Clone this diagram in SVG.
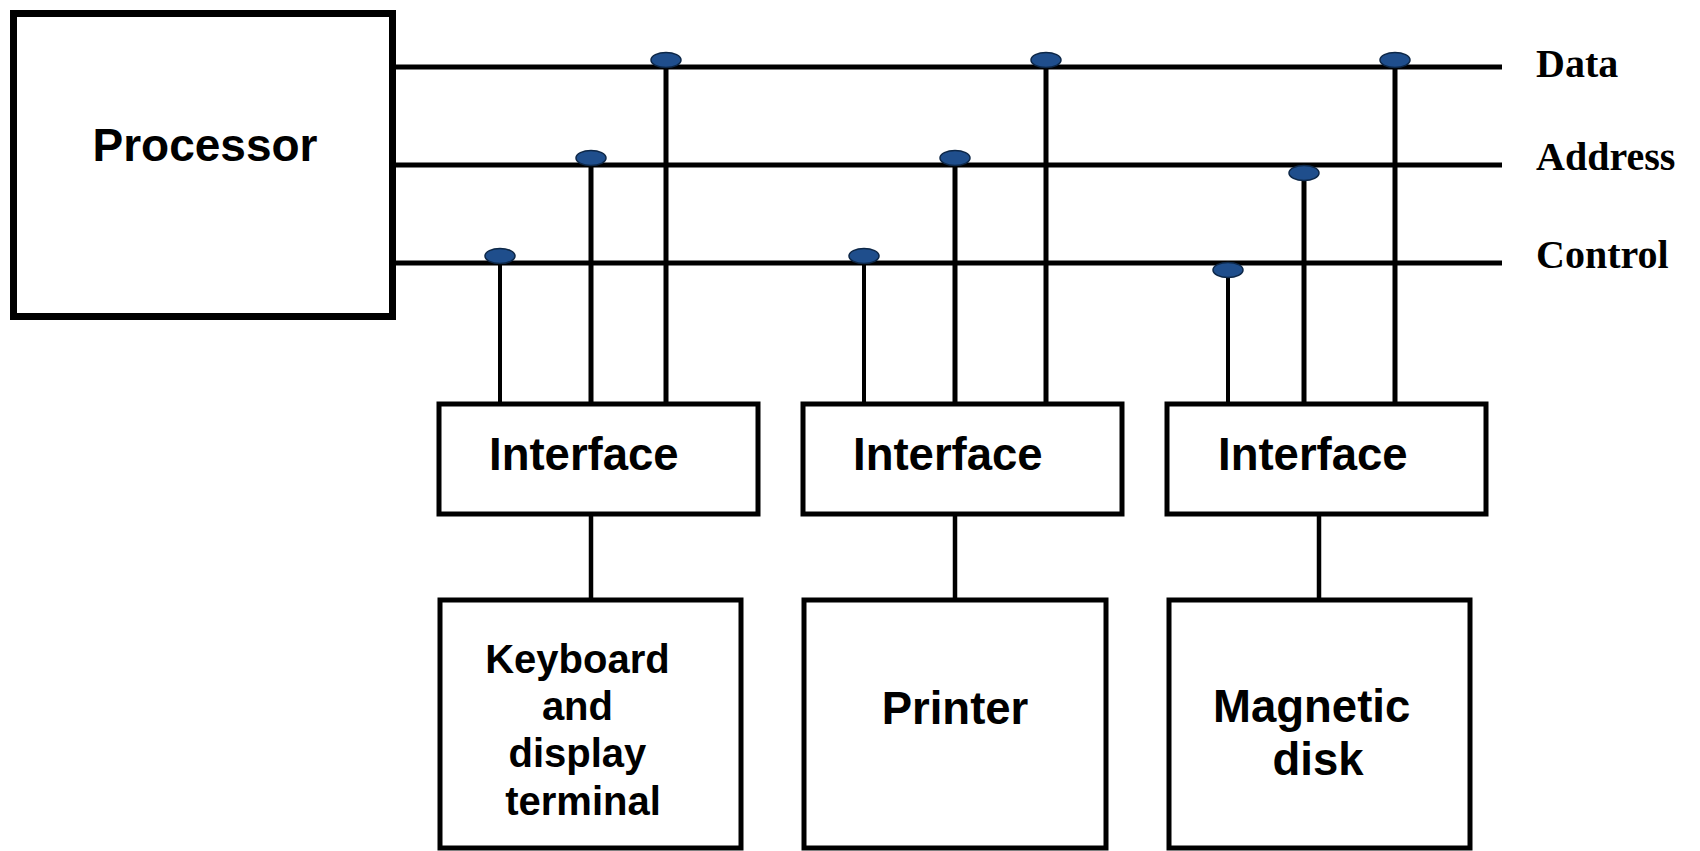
<svg xmlns="http://www.w3.org/2000/svg" width="1700" height="851" viewBox="0 0 1700 851">
<style>
.box{fill:#fff;stroke:#000;stroke-width:5}
.pbox{fill:#fff;stroke:#000;stroke-width:7}
.bus{stroke:#000;stroke-width:5;fill:none}
.tap{stroke:#000;stroke-width:5;fill:none}
.tapc{stroke:#000;stroke-width:4;fill:none}
.stub{stroke:#000;stroke-width:4.5;fill:none}
.dot{fill:#1f4e8c;stroke:#0d2747;stroke-width:1.5}
.lbl{font-family:"Liberation Sans",Arial,sans-serif;font-weight:bold;fill:#000}
.bl{font-family:"Liberation Serif","Times New Roman",serif;font-weight:bold;font-size:40px;fill:#000}
</style>
<rect width="1700" height="851" fill="#fff"/>
<g id="connectors">
  <line class="bus" x1="394" y1="67" x2="1502" y2="67"/>
  <line class="bus" x1="394" y1="165" x2="1502" y2="165"/>
  <line class="bus" x1="394" y1="263" x2="1502" y2="263"/>
  <line class="tapc" x1="500" y1="256" x2="500" y2="404"/>
  <line class="tap" x1="591" y1="158" x2="591" y2="404"/>
  <line class="tap" x1="666" y1="60" x2="666" y2="404"/>
  <line class="tapc" x1="864" y1="256" x2="864" y2="404"/>
  <line class="tap" x1="955" y1="158" x2="955" y2="404"/>
  <line class="tap" x1="1046" y1="60" x2="1046" y2="404"/>
  <line class="tapc" x1="1228" y1="270" x2="1228" y2="404"/>
  <line class="tap" x1="1304" y1="173" x2="1304" y2="404"/>
  <line class="tap" x1="1395" y1="60" x2="1395" y2="404"/>
  <line class="stub" x1="591" y1="514" x2="591" y2="600"/>
  <line class="stub" x1="955" y1="514" x2="955" y2="600"/>
  <line class="stub" x1="1319" y1="514" x2="1319" y2="600"/>
  <ellipse class="dot" cx="500" cy="256" rx="15" ry="7.5"/>
  <ellipse class="dot" cx="591" cy="158" rx="15" ry="7.5"/>
  <ellipse class="dot" cx="666" cy="60" rx="15" ry="7.5"/>
  <ellipse class="dot" cx="864" cy="256" rx="15" ry="7.5"/>
  <ellipse class="dot" cx="955" cy="158" rx="15" ry="7.5"/>
  <ellipse class="dot" cx="1046" cy="60" rx="15" ry="7.5"/>
  <ellipse class="dot" cx="1228" cy="270" rx="15" ry="7.5"/>
  <ellipse class="dot" cx="1304" cy="173" rx="15" ry="7.5"/>
  <ellipse class="dot" cx="1395" cy="60" rx="15" ry="7.5"/>
</g>
<g id="bus-labels">
  <text class="bl" x="1536" y="77">Data</text>
  <text class="bl" x="1536" y="170">Address</text>
  <text class="bl" x="1536" y="268">Control</text>
</g>
<g id="processor">
  <rect class="pbox" x="13.5" y="13.5" width="379" height="303"/>
  <text class="lbl" x="205" y="161" font-size="46" text-anchor="middle">Processor</text>
</g>
<g id="interface1">
  <rect class="box" x="439" y="404" width="319" height="110"/>
  <text class="lbl" x="489" y="470" font-size="45.5">Interface</text>
</g>
<g id="interface2">
  <rect class="box" x="803" y="404" width="319" height="110"/>
  <text class="lbl" x="853" y="470" font-size="45.5">Interface</text>
</g>
<g id="interface3">
  <rect class="box" x="1167" y="404" width="319" height="110"/>
  <text class="lbl" x="1218" y="470" font-size="45.5">Interface</text>
</g>
<g id="keyboard">
  <rect class="box" x="440" y="600" width="301" height="248"/>
  <text class="lbl" font-size="40" text-anchor="middle">
    <tspan x="583" y="673">Keyboard</tspan>
    <tspan x="583" y="720">and</tspan>
    <tspan x="583" y="767">display</tspan>
    <tspan x="583" y="815">terminal</tspan>
  </text>
</g>
<g id="printer">
  <rect class="box" x="804" y="600" width="302" height="248"/>
  <text class="lbl" x="955" y="724" font-size="45.5" text-anchor="middle">Printer</text>
</g>
<g id="disk">
  <rect class="box" x="1169" y="600" width="301" height="248"/>
  <text class="lbl" font-size="45.5" text-anchor="middle">
    <tspan x="1318" y="722">Magnetic</tspan>
    <tspan x="1318" y="775">disk</tspan>
  </text>
</g>
</svg>
